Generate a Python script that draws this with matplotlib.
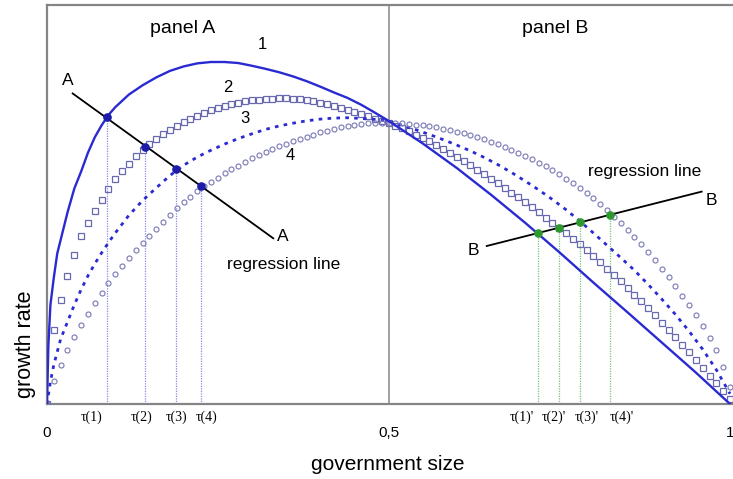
import numpy as np
import matplotlib
matplotlib.use("Agg")
import matplotlib.pyplot as plt

plt.rcParams["font.family"] = ["Liberation Sans", "DejaVu Sans"]

# ---- curve 1 (solid) ----
x1 = [0, 0.002, 0.005, 0.01, 0.015, 0.02, 0.03, 0.04, 0.05, 0.06, 0.07, 0.08, 0.09, 0.10,
      0.12, 0.14, 0.16, 0.18, 0.20, 0.22, 0.24, 0.26, 0.28, 0.30, 0.32, 0.34, 0.36, 0.38,
      0.40, 0.42, 0.44, 0.46, 0.48, 0.50, 0.55, 0.60, 0.65, 0.70, 0.75, 0.80, 0.85, 0.90,
      0.95, 1.00]
y1 = [0, 0.17, 0.29, 0.37, 0.44, 0.48, 0.56, 0.63, 0.68, 0.735, 0.78, 0.815, 0.845, 0.868,
      0.905, 0.932, 0.955, 0.974, 0.987, 0.996, 1.0, 1.0, 0.997, 0.989, 0.980, 0.970, 0.958,
      0.944, 0.928, 0.911, 0.895, 0.875, 0.852, 0.828, 0.762, 0.690, 0.612, 0.530, 0.444,
      0.355, 0.268, 0.180, 0.092, 0.0]

# ---- curves 2 and 4 (markers on a 0.01 grid) ----
x_grid = np.linspace(0, 1, 101)
y2 = [0.000, 0.215, 0.305, 0.375, 0.436, 0.490, 0.530, 0.563, 0.597, 0.628,
      0.657, 0.680, 0.703, 0.724, 0.742, 0.760, 0.776, 0.789, 0.801, 0.813,
      0.824, 0.834, 0.843, 0.852, 0.859, 0.866, 0.872, 0.877, 0.881, 0.885,
      0.888, 0.890, 0.892, 0.893, 0.894, 0.894, 0.893, 0.891, 0.888, 0.885,
      0.881, 0.876, 0.871, 0.866, 0.860, 0.854, 0.847, 0.841, 0.834, 0.828,
      0.822, 0.814, 0.806, 0.797, 0.788, 0.779, 0.769, 0.758, 0.746, 0.734,
      0.722, 0.710, 0.698, 0.685, 0.672, 0.659, 0.646, 0.632, 0.618, 0.604,
      0.590, 0.575, 0.560, 0.545, 0.530, 0.515, 0.499, 0.483, 0.467, 0.450,
      0.433, 0.415, 0.396, 0.378, 0.359, 0.340, 0.320, 0.300, 0.280, 0.259,
      0.238, 0.217, 0.195, 0.173, 0.151, 0.129, 0.106, 0.083, 0.060, 0.038,
      0.016]
y4 = [0.000, 0.068, 0.115, 0.157, 0.197, 0.232, 0.264, 0.295, 0.324, 0.353,
      0.379, 0.404, 0.428, 0.450, 0.471, 0.492, 0.513, 0.533, 0.553, 0.572,
      0.590, 0.606, 0.622, 0.637, 0.650, 0.662, 0.674, 0.686, 0.697, 0.708,
      0.718, 0.727, 0.736, 0.745, 0.753, 0.761, 0.768, 0.775, 0.782, 0.788,
      0.794, 0.799, 0.804, 0.809, 0.813, 0.816, 0.819, 0.821, 0.822, 0.823,
      0.823, 0.822, 0.821, 0.819, 0.817, 0.815, 0.812, 0.809, 0.805, 0.801,
      0.796, 0.791, 0.786, 0.780, 0.774, 0.767, 0.759, 0.751, 0.743, 0.734,
      0.725, 0.715, 0.705, 0.695, 0.684, 0.672, 0.659, 0.646, 0.632, 0.617,
      0.601, 0.584, 0.566, 0.548, 0.530, 0.510, 0.489, 0.467, 0.444, 0.420,
      0.395, 0.370, 0.344, 0.317, 0.289, 0.259, 0.228, 0.194, 0.158, 0.108,
      0.050]

# ---- curve 3 (dashed) ----
x3 = [0, 0.005, 0.01, 0.02, 0.03, 0.04, 0.05, 0.06, 0.07, 0.08, 0.09, 0.10,
      0.12, 0.14, 0.16, 0.18, 0.20, 0.22, 0.24, 0.26, 0.28, 0.30, 0.32, 0.34, 0.36,
      0.38, 0.40, 0.42, 0.44, 0.46, 0.48, 0.50, 0.52, 0.54, 0.56, 0.58, 0.60, 0.62,
      0.64, 0.66, 0.68, 0.70, 0.72, 0.74, 0.76, 0.78, 0.80, 0.82, 0.84, 0.86, 0.88,
      0.90, 0.92, 0.94, 0.96, 0.98, 1.00]
y3 = [0, 0.065, 0.115, 0.19, 0.24, 0.29, 0.335, 0.375, 0.41, 0.442, 0.472, 0.50,
      0.552, 0.595, 0.632, 0.668, 0.698, 0.722, 0.742, 0.760, 0.776, 0.790, 0.803,
      0.813, 0.821, 0.828, 0.833, 0.836, 0.837, 0.835, 0.832, 0.827, 0.815, 0.802,
      0.788, 0.773, 0.757, 0.740, 0.721, 0.700, 0.677, 0.652, 0.626, 0.598, 0.568,
      0.535, 0.500, 0.464, 0.428, 0.391, 0.350, 0.307, 0.262, 0.213, 0.160, 0.100,
      0.030]

# ---- regression lines and intersection points ----
line_a_x = [0.0376, 0.3313]
line_a_y = [0.908, 0.4845]
tau_a = [0.0878, 0.1435, 0.189, 0.2255]
tau_a_y = [0.838, 0.751, 0.687, 0.636]
tau_a_labels = ["τ(1)", "τ(2)", "τ(3)", "τ(4)"]
tau_a_label_x = [0.066, 0.139, 0.190, 0.234]

line_b_x = [0.6438, 0.9585]
line_b_y = [0.462, 0.621]
tau_b = [0.7194, 0.7496, 0.781, 0.824]
tau_b_y = [0.501, 0.516, 0.532, 0.554]
tau_b_labels = ["τ(1)'", "τ(2)'", "τ(3)'", "τ(4)'"]
tau_b_label_x = [0.695, 0.742, 0.790, 0.842]

x_ticks = [0, 0.5, 1]
x_tick_labels = ["0", "0,5", "1"]

BLUE = "#2a2ad2"
MARK = "#6868b0"
DOT_A = "#1c1ca8"
DOT_B = "#2e9a2e"
GRAY = "#858585"

fig = plt.figure(figsize=(7.33, 4.79), dpi=100)
ax = fig.add_axes([47 / 733, 75 / 479, 1.03 * 683 / 733, 399 / 479])
ax.set_xlim(0, 1.03)
ax.set_ylim(0, 399 / 342)

for side in ("left", "top", "bottom"):
    ax.spines[side].set_color(GRAY)
    ax.spines[side].set_linewidth(1.6)
ax.spines["right"].set_visible(False)

ax.axvline(0.5, color="#9a9a9a", lw=1.3, zorder=1)

# vertical guide lines down to the axis
for t, ty in zip(tau_a, tau_a_y):
    ax.plot([t, t], [0, ty], ls=(0, (1, 1)), color="#8a8ae6", lw=0.9, zorder=2)
for t, ty in zip(tau_b, tau_b_y):
    ax.plot([t, t], [0, ty], ls=(0, (1, 1)), color="#7cc47c", lw=0.9, zorder=2)

ax.plot(x1, y1, color=BLUE, lw=1.7, zorder=4)
ax.plot(x_grid, y2, ls="none", marker="s", ms=4.2, mfc="none", mec=MARK, mew=0.9, zorder=3)
ax.plot(x3, y3, color=BLUE, lw=2.0, ls=(0, (1.3, 1.9)), zorder=3)
ax.plot(x_grid, y4, ls="none", marker="o", ms=3.6, mfc="none", mec="#7e7eba", mew=0.85, zorder=3)

ax.plot(line_a_x, line_a_y, color="black", lw=1.3, zorder=5)
ax.plot(line_b_x, line_b_y, color="black", lw=1.3, zorder=5)
ax.plot(tau_a, tau_a_y, ls="none", marker="o", ms=5.2, color=DOT_A, zorder=6)
ax.plot(tau_b, tau_b_y, ls="none", marker="o", ms=5.2, color=DOT_B, zorder=6)

ax.set_xticks(x_ticks)
ax.set_xticklabels(x_tick_labels, fontsize=11)
ax.tick_params(axis="x", length=0, pad=16)
ax.set_yticks([])

for lx, lab in zip(tau_a_label_x, tau_a_labels):
    ax.text(lx, -0.04, lab, ha="center", va="center", fontsize=10,
            family=["Liberation Serif", "DejaVu Serif"], clip_on=False)
for lx, lab in zip(tau_b_label_x, tau_b_labels):
    ax.text(lx, -0.04, lab, ha="center", va="center", fontsize=10,
            family=["Liberation Serif", "DejaVu Serif"], clip_on=False)

ax.text(0.198, 1.099, "panel A", ha="center", va="center", fontsize=14)
ax.text(0.744, 1.099, "panel B", ha="center", va="center", fontsize=14)
ax.text(0.316, 1.050, "1", ha="center", va="center", fontsize=12)
ax.text(0.265, 0.924, "2", ha="center", va="center", fontsize=12)
ax.text(0.290, 0.836, "3", ha="center", va="center", fontsize=12)
ax.text(0.356, 0.728, "4", ha="center", va="center", fontsize=12)

ax.text(0.031, 0.947, "A", ha="center", va="center", fontsize=12.5)
ax.text(0.3455, 0.491, "A", ha="center", va="center", fontsize=12.5)
ax.text(0.624, 0.450, "B", ha="center", va="center", fontsize=12.5)
ax.text(0.973, 0.596, "B", ha="center", va="center", fontsize=12.5)
ax.text(0.346, 0.409, "regression line", ha="center", va="center", fontsize=12.5)
ax.text(0.8755, 0.679, "regression line", ha="center", va="center", fontsize=12.5)

fig.text(388 / 733, 1 - 465 / 479, "government size", ha="center", va="center", fontsize=15)
fig.text(25 / 733, 1 - 344 / 479, "growth rate", ha="center", va="center",
         rotation=90, fontsize=15.5)

fig.savefig("out.png", dpi=100, facecolor="white")
